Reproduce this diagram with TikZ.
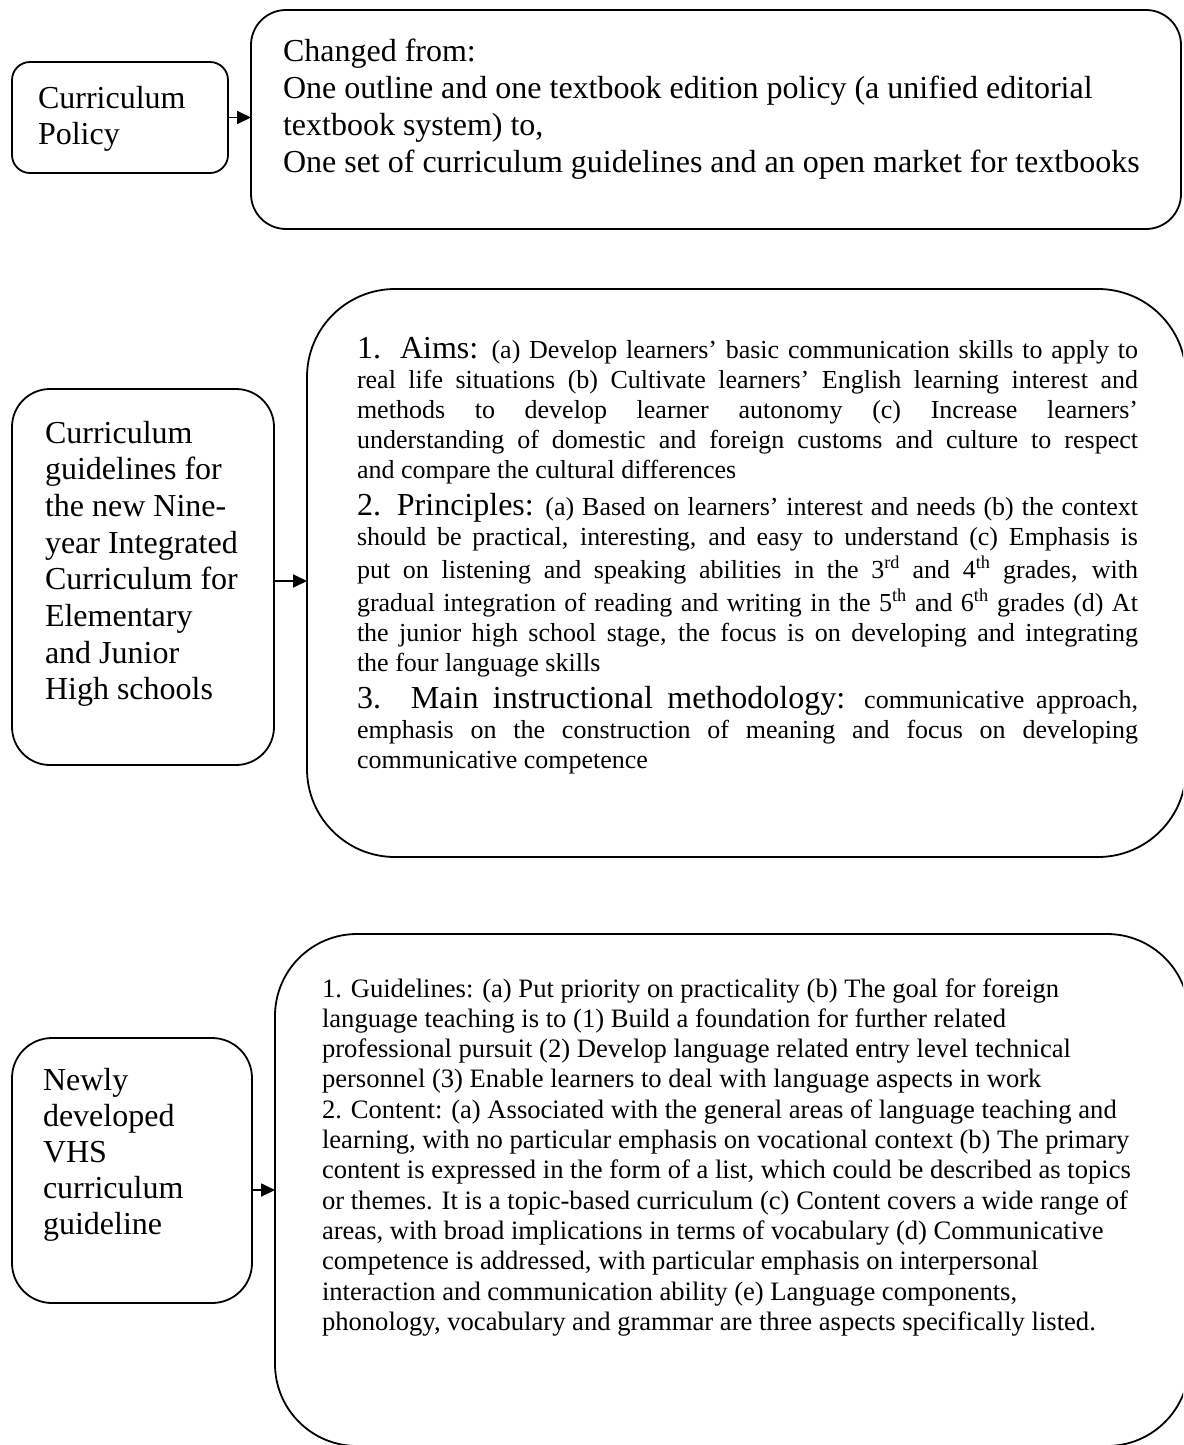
\documentclass[tikz,border=0pt]{standalone}
\usepackage{fontspec}
\setmainfont{Liberation Serif}
\usetikzlibrary{arrows.meta}

% larger run-in headings inside the content panels
\newcommand\hd[1]{{\fontsize{32}{30}\selectfont #1}}
% one fully justified line of the middle panel
\newcommand\jline[1]{\makebox[781pt][s]{#1}\par}

\tikzset{
  box/.style={draw, line width=1.8pt, rectangle, inner sep=0pt, outer sep=0pt, anchor=north west},
  txt/.style={anchor=base west, inner sep=0pt, outer sep=0pt},
  link/.style={line width=1.8pt, -{Triangle[length=14pt,width=13pt]}},
}

\begin{document}
\begin{tikzpicture}[x=1pt,y=-1pt]
\useasboundingbox (0,0) rectangle (1183,1445);
\fill[white] (0,0) rectangle (1183,1445);
\clip (0,0) rectangle (1183,1445);

% ---------- row 1: curriculum policy ----------
\node[box, rounded corners=18pt, minimum width=216pt, minimum height=111pt] (policy) at (12,62) {};
\node[box, rounded corners=35pt, minimum width=930pt, minimum height=219pt] (change) at (251,10) {};
\node[txt] (policy-text) at (38,108) {\parbox[t]{185pt}{\fontsize{32}{36.5}\selectfont\lineskiplimit=-1000pt\parindent=0pt
Curriculum\par Policy}};
\node[txt] (change-text) at (283,62) {\parbox[t]{890pt}{\fontsize{32}{36.7}\selectfont\lineskiplimit=-1000pt\parindent=0pt
Changed from:\par
One outline and one textbook edition policy (a unified editorial\par
textbook system) to,\par
One set of curriculum guidelines and an open market for textbooks}};
\draw[link] (policy.east) -- (policy.east -| change.west);

% ---------- row 2: nine-year integrated curriculum ----------
\node[box, rounded corners=38pt, minimum width=262pt, minimum height=376pt] (nine) at (12,389) {};
\node[box, rounded corners=88pt, minimum width=879pt, minimum height=568pt] (nine-detail) at (307,289) {};
\node[txt] (nine-text) at (45,443) {\parbox[t]{225pt}{\fontsize{32}{36.7}\selectfont\lineskiplimit=-1000pt\parindent=0pt
Curriculum\par guidelines for\par the new Nine-\par year Integrated\par
Curriculum for\par Elementary\par and Junior\par High schools}};
\node[txt] (nine-detail-text) at (357,358) {\parbox[t]{781pt}{\fontsize{26}{30}\selectfont\lineskiplimit=-1000pt\parindent=0pt
\jline{\hd{1. Aims:} (a) Develop learners’ basic communication skills to apply to}
\jline{real life situations (b) Cultivate learners’ English learning interest and}
\jline{methods to develop learner autonomy (c) Increase learners’}
\jline{understanding of domestic and foreign customs and culture to respect}
and compare the cultural differences\par
\vspace{7pt}
\jline{\hd{2. Principles:} (a) Based on learners’ interest and needs (b) the context}
\jline{should be practical, interesting, and easy to understand (c) Emphasis is}
\vspace{3pt}
\jline{put on listening and speaking abilities in the 3\textsuperscript{rd} and 4\textsuperscript{th} grades, with}
\vspace{3pt}
\jline{gradual integration of reading and writing in the 5\textsuperscript{th} and 6\textsuperscript{th} grades (d) At}
\jline{the junior high school stage, the focus is on developing and integrating}
the four language skills\par
\vspace{7pt}
\jline{\hd{3. Main instructional methodology:} communicative approach,}
\jline{emphasis on the construction of meaning and focus on developing}
communicative competence}};
\coordinate (nine-out) at ([yshift=-4pt]nine.east);
\draw[link] (nine-out) -- (nine-out -| nine-detail.west);

% ---------- row 3: vocational high school guideline ----------
\node[box, rounded corners=40pt, minimum width=240pt, minimum height=265pt] (vhs) at (12,1038) {};
\node[box, rounded corners=82pt, minimum width=914pt, minimum height=512pt] (vhs-detail) at (275,934) {};
\node[txt] (vhs-text) at (43,1090) {\parbox[t]{205pt}{\fontsize{32}{36}\selectfont\lineskiplimit=-1000pt\parindent=0pt
Newly\par developed\par VHS\par curriculum\par guideline}};
\node[txt] (vhs-detail-text) at (322,997) {\parbox[t]{860pt}{\fontsize{26.6}{30.3}\selectfont\lineskiplimit=-1000pt\parindent=0pt
1. Guidelines: (a) Put priority on practicality (b) The goal for foreign\par
language teaching is to (1) Build a foundation for further related\par
professional pursuit (2) Develop language related entry level technical\par
personnel (3) Enable learners to deal with language aspects in work\par
2. Content: (a) Associated with the general areas of language teaching and\par
learning, with no particular emphasis on vocational context (b) The primary\par
content is expressed in the form of a list, which could be described as topics\par
or themes. It is a topic-based curriculum (c) Content covers a wide range of\par
areas, with broad implications in terms of vocabulary (d) Communicative\par
competence is addressed, with particular emphasis on interpersonal\par
interaction and communication ability (e) Language components,\par
phonology, vocabulary and grammar are three aspects specifically listed.}};
\coordinate (vhs-out) at ([yshift=-19.5pt]vhs.east);
\draw[link] (vhs-out) -- (vhs-out -| vhs-detail.west);
\end{tikzpicture}
\end{document}
